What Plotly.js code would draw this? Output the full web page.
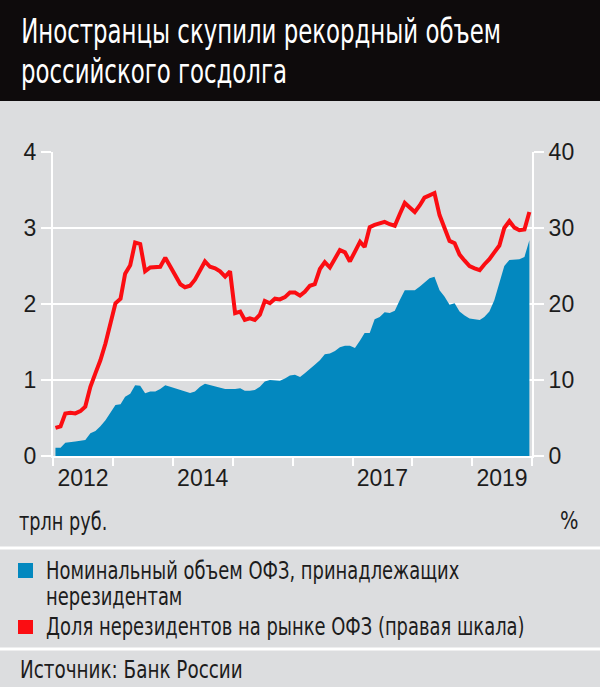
<!DOCTYPE html>
<html>
<head>
<meta charset="utf-8">
<script src="https://cdn.plot.ly/plotly-3.0.1.min.js"></script>
<style>
  html, body { margin: 0; padding: 0; background: #dcdddf; }
  #chart { width: 600px; height: 687px; }
</style>
</head>
<body>
<div id="chart"></div>
<script>
// ---- Data, monthly Jan 2012 – Dec 2019 ----
const years = [2012, 2013, 2014, 2015, 2016, 2017, 2018, 2019];

// Nominal volume of OFZ held by non-residents, trillion rubles (left axis)
const ofzVolume = [
  0.11, 0.11, 0.175, 0.18, 0.19, 0.20, 0.21, 0.30, 0.33, 0.39, 0.47, 0.57,
  0.67, 0.68, 0.78, 0.82, 0.93, 0.925, 0.825, 0.85, 0.85, 0.88, 0.93, 0.91,
  0.89, 0.86, 0.85, 0.83, 0.85, 0.91, 0.95, 0.93, 0.915, 0.89, 0.88, 0.88,
  0.88, 0.89, 0.86, 0.86, 0.87, 0.91, 0.98, 1.00, 0.99, 0.99, 1.02, 1.06,
  1.07, 1.04, 1.09, 1.14, 1.20, 1.26, 1.34, 1.35, 1.38, 1.43, 1.45, 1.45,
  1.42, 1.52, 1.62, 1.62, 1.80, 1.83, 1.89, 1.88, 1.91, 2.05, 2.18, 2.18,
  2.18, 2.23, 2.28, 2.34, 2.36, 2.18, 2.10, 1.99, 2.01, 1.90, 1.85, 1.81,
  1.80, 1.79, 1.83, 1.90, 2.05, 2.27, 2.50, 2.58, 2.59, 2.59, 2.62, 2.84
];

// Share of non-residents in the OFZ market, % (right axis)
const nonresShare = [
  3.7, 3.9, 5.6, 5.7, 5.6, 5.9, 6.5, 9.1, 10.9, 12.6, 14.8, 17.5,
  20.1, 20.7, 24.0, 25.1, 28.1, 27.9, 24.3, 24.8, 24.9, 24.9, 26.1, 24.9,
  23.8, 22.6, 22.2, 22.4, 23.2, 24.5, 25.6, 24.9, 24.7, 24.3, 23.6, 24.3,
  18.8, 19.0, 17.9, 18.1, 17.9, 18.6, 20.4, 20.1, 20.7, 20.6, 20.9, 21.5,
  21.5, 21.1, 21.6, 22.4, 22.6, 24.6, 25.5, 24.8, 26.0, 27.1, 26.8, 25.6,
  26.9, 28.2, 27.5, 30.1, 30.4, 30.6, 30.8, 30.5, 30.3, 31.8, 33.3, 32.7,
  32.1, 33.0, 34.0, 34.3, 34.6, 31.7, 30.0, 28.3, 28.0, 26.5, 25.7, 25.0,
  24.7, 24.45, 25.2, 25.9, 26.8, 27.7, 30.0, 30.9, 30.05, 29.7, 29.8, 32.1
];

const xLabelYears = ['2012', '2014', '2017', '2019'];
const leftTicks = [0, 1, 2, 3, 4];
const rightTicks = [0, 10, 20, 30, 40];

const titleLines = ['Иностранцы скупили рекордный объем', 'российского госдолга'];
const seriesNames = ['Номинальный объем ОФЗ, принадлежащих', 'нерезидентам',
                     'Доля нерезидентов на рынке ОФЗ (правая шкала)'];
const unitLeft = 'трлн руб.';
const unitRight = '%';
const sourceText = 'Источник: Банк России';

// ---- Build month dates ----
const months = [];
years.forEach(y => {
  for (let m = 1; m <= 12; m++) months.push(y + '-' + String(m).padStart(2, '0') + '-16');
});

// ---- Geometry helpers ----
const W = 600, H = 687;
const M = { l: 53, r: 68, t: 152, b: 231 };
const PW = W - M.l - M.r, PH = H - M.t - M.b;
const px = x => (x - M.l) / PW;
const py = y => 1 - (y - M.t) / PH;

const FONT = '"Liberation Sans Narrow", "DejaVu Sans Condensed", "Arial Narrow", sans-serif';
const NUMFONT = '"Liberation Sans", Arial, sans-serif';
const TXT = '#1c1c1c';
const BLUE = '#0388bf';
const RED = '#fb0d12';
const BG = '#dcdddf';

const traces = [
  {
    x: months, y: ofzVolume, type: 'scatter', mode: 'lines',
    fill: 'tozeroy', fillcolor: BLUE, line: { width: 0, color: BLUE },
    name: seriesNames[0] + ' ' + seriesNames[1], yaxis: 'y', showlegend: false
  },
  {
    x: months, y: nonresShare, type: 'scatter', mode: 'lines',
    line: { width: 4, color: RED }, name: seriesNames[2], yaxis: 'y2', showlegend: false
  }
];

const ann = (text, x, y, opts) => Object.assign({
  text: text, x: px(x), y: py(y), xref: 'paper', yref: 'paper',
  xanchor: 'left', yanchor: 'middle', showarrow: false, borderpad: 0,
  font: { family: FONT, size: 24, color: TXT }
}, opts || {});

const annotations = [
  ann(titleLines[0], 20, 32, { font: { family: FONT, size: 33, color: '#ffffff' } }),
  ann(titleLines[1], 20, 71, { font: { family: FONT, size: 33, color: '#ffffff' } }),
  ann(unitLeft, 18, 522),
  ann(unitRight, 580, 521, { xanchor: 'right' }),
  ann(seriesNames[0], 45, 571),
  ann(seriesNames[1], 45, 597),
  ann(seriesNames[2], 45, 627),
  ann(sourceText, 19, 670)
];
// horizontal condensation of each annotation text (the reference uses a condensed face)
const annScale = [0.77, 0.77, 0.82, 0.9, 0.83, 0.83, 0.83, 0.85];

const layout = {
  width: W, height: H,
  margin: M,
  paper_bgcolor: BG, plot_bgcolor: BG,
  showlegend: false,
  xaxis: {
    type: 'date',
    range: ['2012-01-01', '2020-01-01'],
    tickmode: 'array',
    tickvals: xLabelYears.map(y => y + '-07-02'),
    ticktext: xLabelYears,
    ticks: '',
    showgrid: false, zeroline: false,
    showline: true, linecolor: '#ffffff', linewidth: 2,
    tickfont: { family: NUMFONT, size: 23, color: TXT },
    minor: {
      tickmode: 'array',
      tickvals: years.concat([2020]).map(y => y + '-01-01'),
      ticks: 'outside', ticklen: 8, tickwidth: 2, tickcolor: '#ffffff',
      showgrid: false
    },
    fixedrange: true
  },
  yaxis: {
    range: [0, 4], tickmode: 'array', tickvals: leftTicks,
    ticks: 'outside', ticklen: 10, tickwidth: 2, tickcolor: '#ffffff',
    showgrid: true, gridcolor: '#ffffff', gridwidth: 2,
    zeroline: false, showline: true, linecolor: '#ffffff', linewidth: 2,
    tickfont: { family: NUMFONT, size: 23, color: TXT },
    fixedrange: true
  },
  yaxis2: {
    range: [0, 40], overlaying: 'y', side: 'right',
    tickmode: 'array', tickvals: rightTicks,
    ticks: 'outside', ticklen: 10, tickwidth: 2, tickcolor: '#ffffff',
    showgrid: false, zeroline: false,
    showline: true, linecolor: '#ffffff', linewidth: 2,
    tickfont: { family: NUMFONT, size: 23, color: TXT },
    fixedrange: true
  },
  shapes: [
    { type: 'rect', xref: 'paper', yref: 'paper', x0: px(0), x1: px(W), y0: py(101), y1: py(0),
      fillcolor: '#0e0b0c', line: { width: 0 }, layer: 'below' },
    { type: 'line', xref: 'paper', yref: 'paper', x0: px(0), x1: px(W), y0: py(548), y1: py(548),
      line: { color: '#ffffff', width: 3 } },
    { type: 'line', xref: 'paper', yref: 'paper', x0: px(0), x1: px(W), y0: py(649), y1: py(649),
      line: { color: '#ffffff', width: 3 } },
    { type: 'rect', xref: 'paper', yref: 'paper', x0: px(18), x1: px(33), y0: py(578), y1: py(563),
      fillcolor: BLUE, line: { width: 0 } },
    { type: 'rect', xref: 'paper', yref: 'paper', x0: px(18), x1: px(33), y0: py(634), y1: py(620),
      fillcolor: RED, line: { width: 0 } }
  ],
  annotations: annotations
};

Plotly.newPlot('chart', traces, layout, { staticPlot: true, displayModeBar: false }).then(gd => {
  gd.querySelectorAll('g.annotation').forEach(g => {
    const i = +g.getAttribute('data-index');
    const t = g.querySelector('text.annotation-text');
    if (!t || isNaN(i)) return;
    const right = annotations[i].xanchor === 'right';
    t.style.transformBox = 'fill-box';
    t.style.transformOrigin = right ? 'right center' : 'left center';
    t.style.transform = 'scaleX(' + annScale[i] + ')';
  });
});
</script>
</body>
</html>
